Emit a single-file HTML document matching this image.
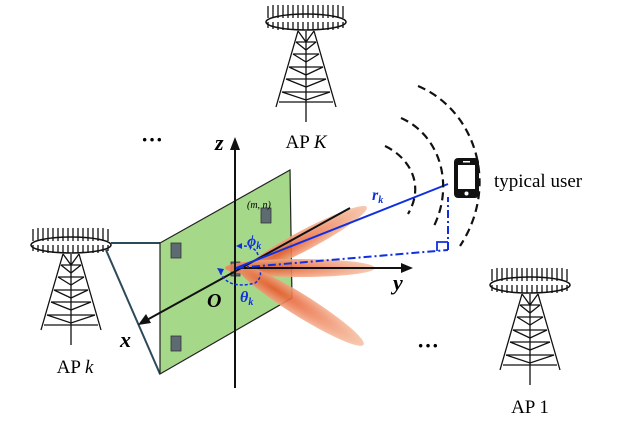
<!DOCTYPE html>
<html><head><meta charset="utf-8"><style>
html,body{margin:0;padding:0;background:#fff}
svg{display:block}
text{font-family:"Liberation Serif",serif}
</style></head><body>
<svg width="640" height="423" viewBox="0 0 640 423" xmlns="http://www.w3.org/2000/svg">
<defs>
<g id="tw" stroke="#111" fill="none" stroke-width="1.3">
<path d="M-38,-4V-16M-33,-4V-17M-28,-4V-17M-23,-4V-17M-18,-4V-17M-13,-4V-17M-8,-4V-17M-3,-4V-17M2,-4V-17M7,-4V-17M12,-4V-17M17,-4V-17M22,-4V-17M27,-4V-17M32,-4V-17M37,-4V-16"/>
<path d="M-38,0V6M-33,0V7M-28,0V8M-23,0V8M-18,0V8M-13,0V8M-8,0V8M-3,0V8M2,0V8M7,0V8M12,0V8M17,0V8M22,0V8M27,0V8M32,0V7M37,0V6"/>
<ellipse cx="0" cy="0" rx="40" ry="8" stroke-width="1.5"/>
<path d="M-8,9L-30,85M8,9L30,85M0,9V100"/>
<path d="M-10,20H10M-13,32H13M-17,45H17M-20,57H20M-24,70H24M-27,80H27"/>
<path d="M-10,20L0,28L10,20M-13,32L0,40L13,32M-17,45L0,53L17,45M-20,57L0,65L20,57M-24,70L0,78L24,70M-8,9L0,20L8,9"/>
</g>
<radialGradient id="bm" cx="0.3" cy="0.5" r="0.7">
<stop offset="0" stop-color="#e8582a"/><stop offset="1" stop-color="#f7c4a8"/></radialGradient>
</defs>

<use href="#tw" x="306" y="22"/>
<use href="#tw" x="71" y="245"/>
<use href="#tw" x="530" y="285"/>

<text x="306" y="148" font-size="19" text-anchor="middle">AP <tspan font-style="italic">K</tspan></text>
<text x="75" y="373" font-size="19" text-anchor="middle">AP <tspan font-style="italic">k</tspan></text>
<text x="530" y="413" font-size="19" text-anchor="middle">AP 1</text>
<text x="152" y="147" font-size="22" text-anchor="middle" font-weight="bold">···</text>
<text x="428" y="353" font-size="22" text-anchor="middle" font-weight="bold">···</text>

<path d="M111,243H160M106,250L160,374" stroke="#2c4a5a" stroke-width="2" fill="none"/>

<polygon points="160,243 290,170 292,298 160,374" fill="#a6d88a" stroke="#222" stroke-width="1.2"/>
<g fill="#5d6b72" stroke="#333" stroke-width="0.8">
<rect x="171" y="243" width="10" height="15"/>
<rect x="261" y="208" width="10" height="15"/>
<rect x="171" y="336" width="10" height="15"/>
<rect x="231" y="262" width="9" height="14"/>
</g>
<text x="247" y="208" font-size="10" font-style="italic">(m, n)</text>

<g opacity="0.9">
<ellipse cx="305" cy="240" rx="70" ry="10" fill="url(#bm)" transform="rotate(-28 305 240)"/>
<ellipse cx="300" cy="268" rx="75" ry="9" fill="url(#bm)"/>
<ellipse cx="300" cy="305" rx="75" ry="11" fill="url(#bm)" transform="rotate(32 300 305)"/>
</g>

<g stroke="#111" stroke-width="2" fill="none">
<path d="M235,388V145"/>
<path d="M350,208L145,321"/>
<path d="M236,268H405"/>
</g>
<polygon points="235,137 230,150 240,150" fill="#111"/>
<polygon points="138,325 146,314 151,323" fill="#111"/>
<polygon points="413,268 401,263 401,273" fill="#111"/>
<text x="215" y="150" font-size="22" font-style="italic" font-weight="bold">z</text>
<text x="393" y="290" font-size="22" font-style="italic" font-weight="bold">y</text>
<text x="120" y="347" font-size="22" font-style="italic" font-weight="bold">x</text>
<text x="207" y="307" font-size="20" font-style="italic" font-weight="bold">O</text>

<g stroke="#1030e0" fill="none" stroke-width="2">
<path d="M236,268L448,184"/>
<path d="M236,268L448,250" stroke-dasharray="8,3,2,3"/>
<path d="M448,250V197" stroke-dasharray="8,3,2,3"/>
<path d="M437,251V242H448" stroke-width="1.8"/>
<path d="M258,255Q255,245 240,246" stroke-dasharray="3,2" stroke-width="1.5"/>
<path d="M220,272Q228,290 255,283Q262,278 260,271" stroke-dasharray="3,2" stroke-width="1.5"/>
</g>
<polygon points="236,246 242,243 242,249" fill="#1030e0"/>
<polygon points="217,268 221,275 224,269" fill="#1030e0"/>
<text x="372" y="200" font-size="16" font-style="italic" font-weight="bold" fill="#1030e0">r<tspan font-size="10" dy="3">k</tspan></text>
<text x="247" y="246" font-size="16" font-style="italic" font-weight="bold" fill="#1030e0">ϕ<tspan font-size="10" dy="3">k</tspan></text>
<text x="240" y="302" font-size="16" font-style="italic" font-weight="bold" fill="#1030e0">θ<tspan font-size="10" dy="3">k</tspan></text>

<g stroke="#111" fill="none" stroke-width="2.2" stroke-dasharray="8,5">
<path d="M385,146C410,158 425,185 408,214"/>
<path d="M401,118C440,135 455,185 433,228"/>
<path d="M418,86C475,110 500,185 460,246"/>
</g>
<rect x="454" y="158" width="25" height="40" rx="4" fill="#111"/>
<rect x="458" y="165" width="17" height="24" fill="#fff"/>
<rect x="463" y="161" width="7" height="1.5" fill="#fff"/>
<circle cx="466.5" cy="193.5" r="2" fill="#fff"/>
<text x="494" y="187" font-size="19">typical user</text>
</svg>
</body></html>
